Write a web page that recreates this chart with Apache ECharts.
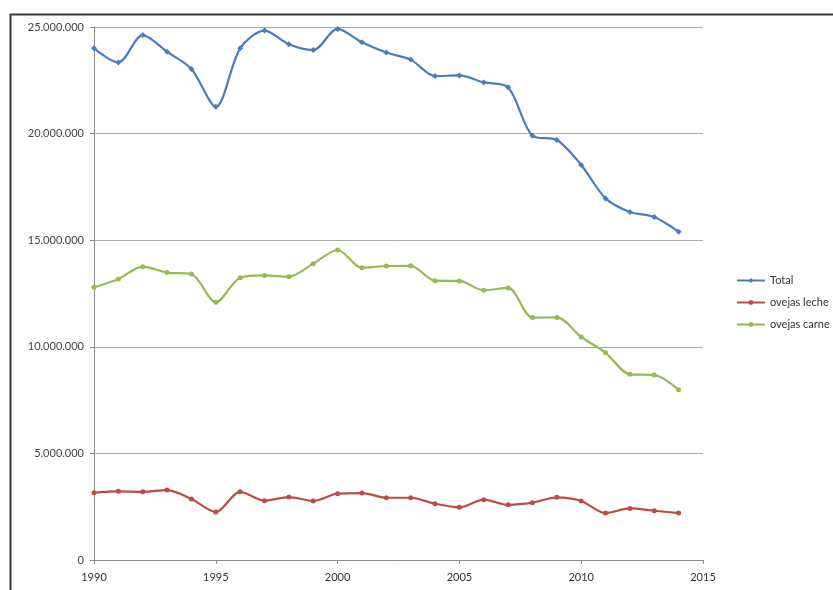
<!DOCTYPE html>
<html>
<head>
<meta charset="utf-8">
<style>
  html, body { margin: 0; padding: 0; background: #fff; }
  #chart { width: 833px; height: 590px; }
</style>
<script src="https://cdn.jsdelivr.net/npm/echarts@6/dist/echarts.min.js"></script>
</head>
<body>
<div id="chart"></div>
<script>
// años
var years = [1990, 1991, 1992, 1993, 1994, 1995, 1996, 1997, 1998, 1999, 2000, 2001, 2002,
  2003, 2004, 2005, 2006, 2007, 2008, 2009, 2010, 2011, 2012, 2013, 2014];

// valores
var total = [24000000, 23340000, 24620000, 23840000, 23030000, 21260000, 24000000, 24830000,
  24190000, 23920000, 24910000, 24280000, 23800000, 23470000, 22700000, 22730000, 22400000,
  22170000, 19900000, 19700000, 18530000, 16960000, 16320000, 16090000, 15400000];
var ovejasLeche = [3160000, 3220000, 3200000, 3280000, 2860000, 2250000, 3200000, 2780000,
  2950000, 2770000, 3110000, 3140000, 2920000, 2920000, 2640000, 2470000, 2830000, 2590000,
  2690000, 2940000, 2770000, 2200000, 2420000, 2310000, 2200000];
var ovejasCarne = [12790000, 13180000, 13760000, 13480000, 13410000, 12090000, 13240000, 13350000,
  13290000, 13900000, 14540000, 13710000, 13790000, 13800000, 13100000, 13090000, 12650000,
  12760000, 11370000, 11380000, 10460000, 9720000, 8710000, 8680000, 7990000];

var seriesNames = ['Total', 'ovejas leche', 'ovejas carne'];
var colors = ['#4a7ebb', '#be4b48', '#98b954'];

function pairs(vals) {
  return years.map(function (y, i) { return [y, vals[i]]; });
}

// separador de miles con punto
function fmt(v) {
  return String(v).replace(/\B(?=(\d{3})+(?!\d))/g, '.');
}

var chart = echarts.init(document.getElementById('chart'));

var font = 'Lato, "Liberation Sans", sans-serif';

function lineSeries(name, vals, color, symbol) {
  return {
    name: name,
    type: 'line',
    data: pairs(vals),
    smooth: 0.3,
    symbol: symbol,
    symbolSize: symbol === 'diamond' ? 6 : 5,
    itemStyle: { color: color },
    lineStyle: { color: color, width: 2.2 }
  };
}

var option = {
  animation: false,
  backgroundColor: '#fff',
  textStyle: { fontFamily: font },
  graphic: [{
    type: 'rect',
    left: 8,
    top: 12,
    shape: { width: 900, height: 700 },
    style: { fill: 'none', stroke: '#3a3a3a', lineWidth: 2 }
  }],
  grid: { left: 94, right: 130, top: 27, bottom: 30 },
  legend: {
    orient: 'vertical',
    left: 731,
    top: 270,
    itemWidth: 28,
    itemHeight: 6,
    itemGap: 11,
    data: seriesNames,
    textStyle: { fontSize: 11, color: '#333', fontFamily: font }
  },
  xAxis: {
    type: 'value',
    min: 1990,
    max: 2015,
    interval: 5,
    axisLine: { lineStyle: { color: '#8c8c8c' } },
    axisTick: { show: true, length: 4, lineStyle: { color: '#8c8c8c' } },
    axisLabel: { color: '#333', fontSize: 11, margin: 12, formatter: function (v) { return String(v); } },
    splitLine: { show: false }
  },
  yAxis: {
    type: 'value',
    min: 0,
    max: 25000000,
    interval: 5000000,
    axisLine: { show: true, lineStyle: { color: '#8c8c8c' } },
    axisTick: { show: true, length: 4, lineStyle: { color: '#8c8c8c' } },
    axisLabel: { color: '#444', fontSize: 11, margin: 10, formatter: fmt },
    splitLine: { lineStyle: { color: '#ababab', width: 1 } }
  },
  series: [
    lineSeries(seriesNames[0], total, colors[0], 'diamond'),
    lineSeries(seriesNames[1], ovejasLeche, colors[1], 'circle'),
    lineSeries(seriesNames[2], ovejasCarne, colors[2], 'circle')
  ]
};

chart.setOption(option);
</script>
</body>
</html>
